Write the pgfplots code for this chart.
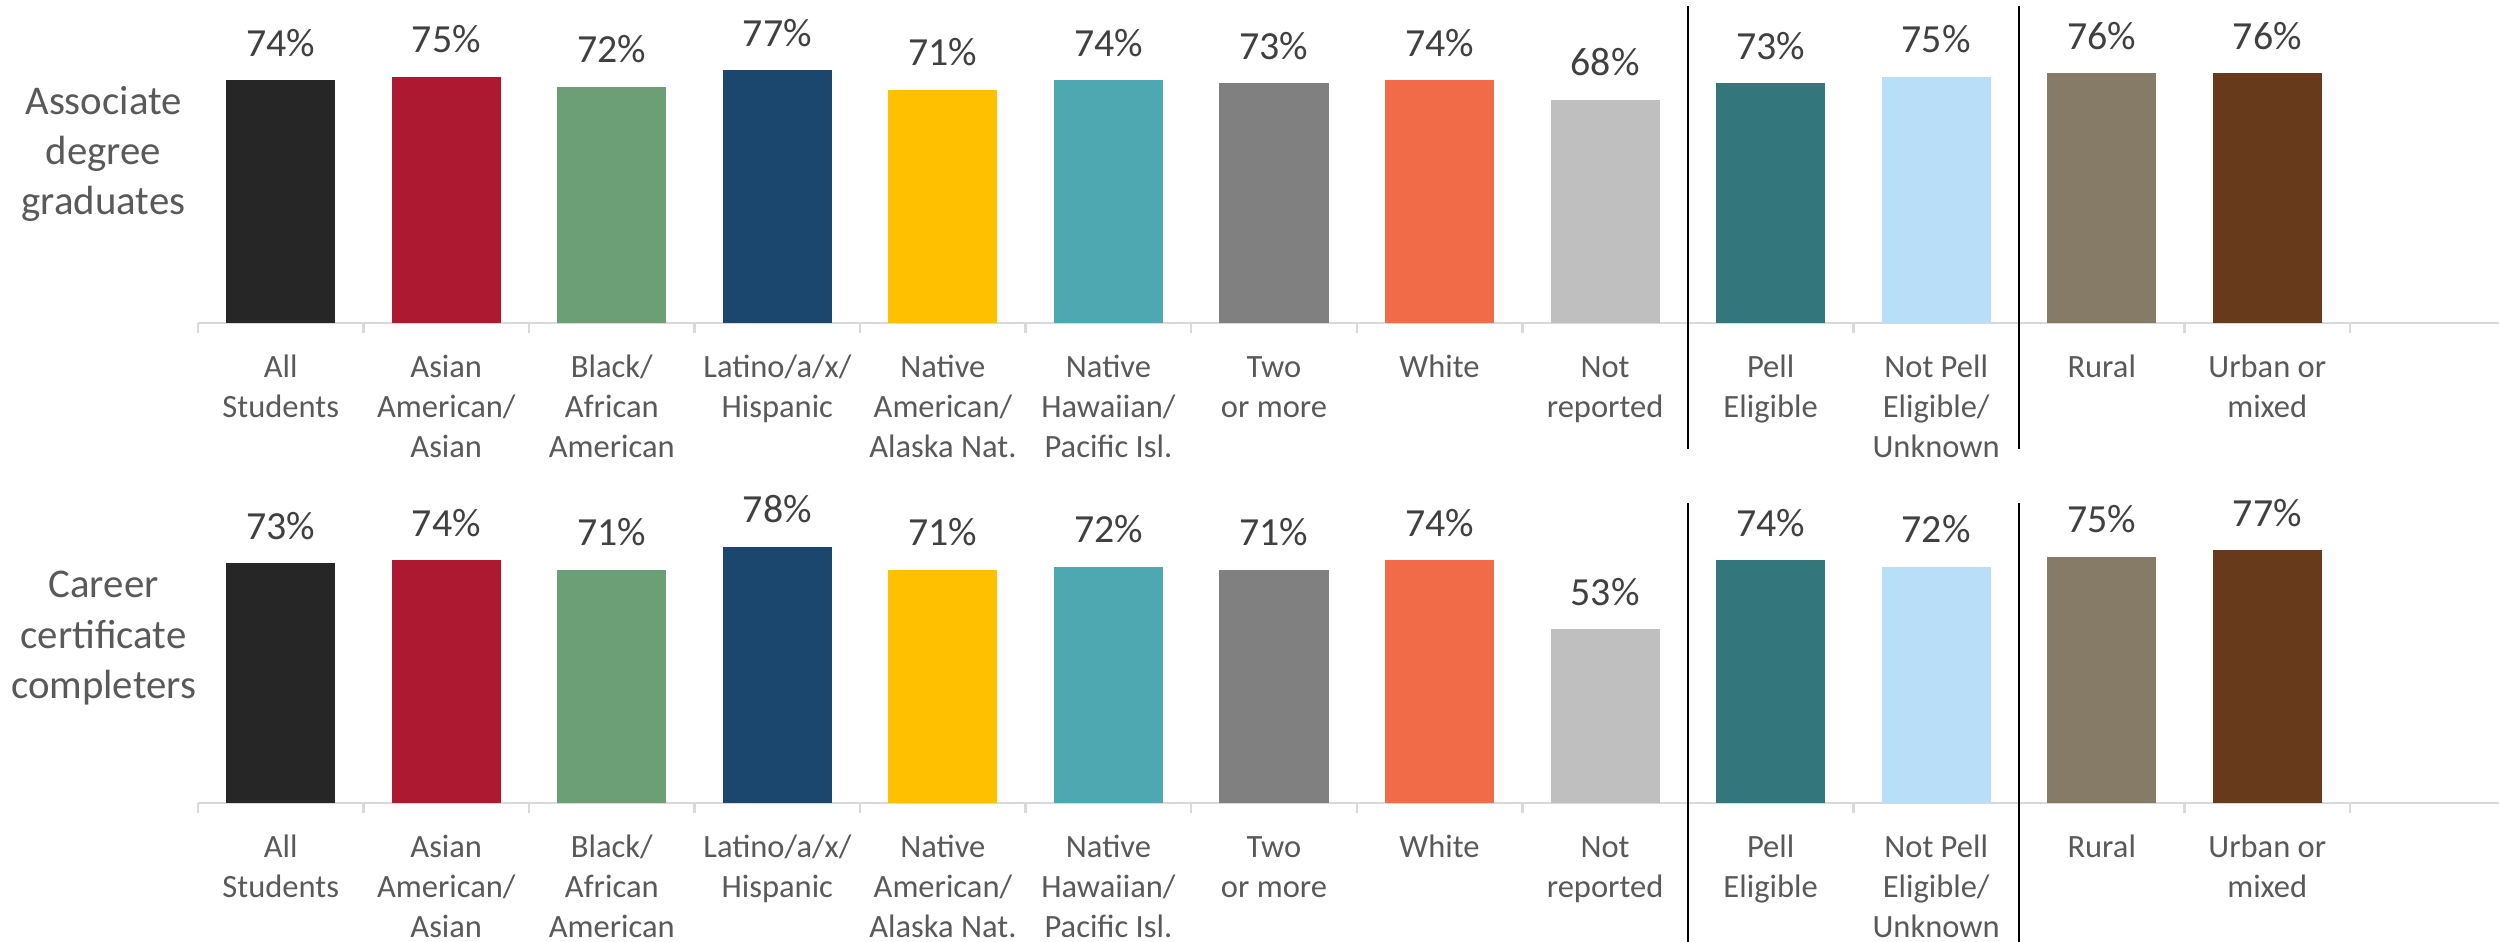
\documentclass[border=0pt]{standalone}
\usepackage{fontspec}
\setmainfont{Carlito}
\usepackage{pgfplots}
\pgfplotsset{compat=1.18}
\definecolor{c0}{HTML}{262626}
\definecolor{c1}{HTML}{AE1932}
\definecolor{c2}{HTML}{6C9F75}
\definecolor{c3}{HTML}{1B466E}
\definecolor{c4}{HTML}{FFC000}
\definecolor{c5}{HTML}{4EA8B1}
\definecolor{c6}{HTML}{808080}
\definecolor{c7}{HTML}{F26B48}
\definecolor{c8}{HTML}{BFBFBF}
\definecolor{c9}{HTML}{33777C}
\definecolor{c10}{HTML}{B8DFF7}
\definecolor{c11}{HTML}{857B67}
\definecolor{c12}{HTML}{663A1A}
\definecolor{cdata}{HTML}{404040}
\definecolor{ctext}{HTML}{595959}
\definecolor{caxis}{HTML}{D9D9D9}
\newcommand{\cl}[1]{\begin{tabular}[t]{@{}c@{}}#1\end{tabular}}
\pgfplotsset{
  panel/.style={
    scale only axis, width=721.9pt, height=82.4pt,
    anchor=south west, at={(62.1pt,#1)},
    xmin=-0.5, xmax=13.4, ymin=0, ymax=80,
    enlargelimits=false, clip=false,
    axis x line*=bottom, axis y line=none,
    x axis line style={draw=caxis, line width=0.75pt},
    ybar, bar width=34.2pt, bar shift=0pt,
    xtick={0,...,12},
    xticklabels={{\cl{All\\Students}},{\cl{Asian\\American/\\Asian}},{\cl{Black/\\African\\American}},{\cl{Latino/a/x/\\Hispanic}},{\cl{Native\\American/\\Alaska Nat.}},{\cl{Native\\Hawaiian/\\Pacific Isl.}},{\cl{Two\\or more}},{\cl{White}},{\cl{Not\\reported}},{\cl{Pell\\Eligible}},{\cl{Not Pell\\Eligible/\\Unknown}},{\cl{Rural}},{\cl{Urban or\\mixed}}},
    xticklabel style={font=\fontsize{10.2}{12.6}\selectfont, text=ctext, anchor=base, inner sep=0pt, yshift=-17pt},
    major tick length=0pt,
    minor xtick={-0.5,0.5,...,12.5},
    minor tick length=3.1pt, tick align=outside,
    minor tick style={draw=caxis, line width=0.75pt},
    nodes near coords={\pgfmathprintnumber[assume math mode=true]{\pgfplotspointmeta}\%},
    nodes near coords style={font=\fontsize{12.5}{15}\selectfont, text=cdata, anchor=base, inner sep=0pt, yshift=7.5pt},
  },
}
\begin{document}
\begin{tikzpicture}
\useasboundingbox (0,0) rectangle (784pt,295.5pt);
\begin{axis}[panel=194.2pt]
\addplot[draw=none, fill=c0] coordinates {(0,74)};
\addplot[draw=none, fill=c1] coordinates {(1,75)};
\addplot[draw=none, fill=c2] coordinates {(2,72)};
\addplot[draw=none, fill=c3] coordinates {(3,77)};
\addplot[draw=none, fill=c4] coordinates {(4,71)};
\addplot[draw=none, fill=c5] coordinates {(5,74)};
\addplot[draw=none, fill=c6] coordinates {(6,73)};
\addplot[draw=none, fill=c7] coordinates {(7,74)};
\addplot[draw=none, fill=c8] coordinates {(8,68)};
\addplot[draw=none, fill=c9] coordinates {(9,73)};
\addplot[draw=none, fill=c10] coordinates {(10,75)};
\addplot[draw=none, fill=c11] coordinates {(11,76)};
\addplot[draw=none, fill=c12] coordinates {(12,76)};
\draw[black, line width=0.8pt] (axis cs:8.5,-38.3) -- (axis cs:8.5,96.5);
\draw[black, line width=0.8pt] (axis cs:10.5,-38.3) -- (axis cs:10.5,96.5);
\end{axis}
\begin{axis}[panel=43.6pt]
\addplot[draw=none, fill=c0] coordinates {(0,73)};
\addplot[draw=none, fill=c1] coordinates {(1,74)};
\addplot[draw=none, fill=c2] coordinates {(2,71)};
\addplot[draw=none, fill=c3] coordinates {(3,78)};
\addplot[draw=none, fill=c4] coordinates {(4,71)};
\addplot[draw=none, fill=c5] coordinates {(5,72)};
\addplot[draw=none, fill=c6] coordinates {(6,71)};
\addplot[draw=none, fill=c7] coordinates {(7,74)};
\addplot[draw=none, fill=c8] coordinates {(8,53)};
\addplot[draw=none, fill=c9] coordinates {(9,74)};
\addplot[draw=none, fill=c10] coordinates {(10,72)};
\addplot[draw=none, fill=c11] coordinates {(11,75)};
\addplot[draw=none, fill=c12] coordinates {(12,77)};
\draw[black, line width=0.8pt] (axis cs:8.5,-45) -- (axis cs:8.5,91.3);
\draw[black, line width=0.8pt] (axis cs:10.5,-45) -- (axis cs:10.5,91.3);
\end{axis}
\node[anchor=base, align=center, font=\fontsize{12.8}{15.7}\selectfont, text=ctext] at (32.5pt,228.1pt) {Associate\\degree\\graduates};
\node[anchor=base, align=center, font=\fontsize{12.8}{15.7}\selectfont, text=ctext] at (32.5pt,76.5pt) {Career\\certificate\\completers};
\end{tikzpicture}
\end{document}
